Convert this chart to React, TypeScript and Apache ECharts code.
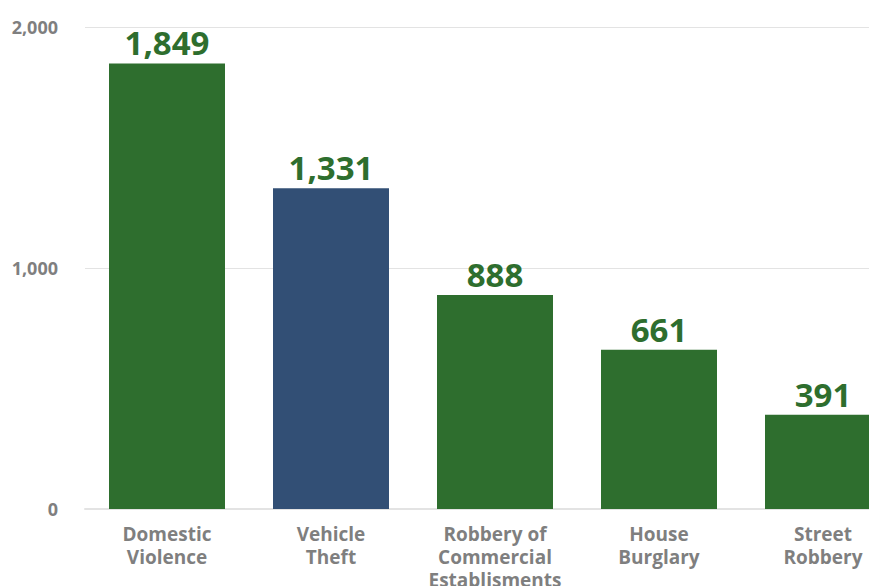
import React, { useEffect, useRef } from "react";
import * as echarts from "echarts";

const categories = [
  "Domestic\nViolence",
  "Vehicle\nTheft",
  "Robbery of\nCommercial\nEstablisments",
  "House\nBurglary",
  "Street\nRobbery",
];
const values = [1849, 1331, 888, 661, 391];
const barColors = ["#2e6e2e", "#324f75", "#2e6e2e", "#2e6e2e", "#2e6e2e"];
const yTicks = [0, 1000, 2000];

export default function App() {
  const ref = useRef<HTMLDivElement>(null);
  useEffect(() => {
    const chart = echarts.init(ref.current!, null, { renderer: "svg" });
    const font = "'Open Sans', 'DejaVu Sans', sans-serif";
    chart.setOption({
      animation: false,
      grid: {
        left: 85,
        width: 820,
        top: 27,
        bottom: 77,
        containLabel: false,
        outerBoundsMode: "none",
      },
      xAxis: {
        type: "category",
        data: categories,
        axisLine: { show: true, lineStyle: { color: "#e3e3e3", width: 2 } },
        axisTick: { show: false },
        axisLabel: {
          color: "#7f7f7f",
          fontFamily: font,
          fontWeight: "bold",
          fontSize: 19,
          lineHeight: 23,
          margin: 13,
          interval: 0,
        },
      },
      yAxis: {
        type: "value",
        min: 0,
        max: yTicks[yTicks.length - 1],
        interval: 1000,
        axisLine: { show: false },
        axisTick: { show: false },
        splitLine: { lineStyle: { color: "#e3e3e3", width: 1 } },
        axisLabel: {
          color: "#7f7f7f",
          fontFamily: font,
          fontWeight: "bold",
          fontSize: 18,
          margin: 27,
          formatter: (v: number) => v.toLocaleString("en-US"),
        },
      },
      series: [
        {
          type: "bar",
          barWidth: 116,
          data: values.map((v, i) => ({ value: v, itemStyle: { color: barColors[i] } })),
          label: {
            show: true,
            position: "top",
            distance: 4,
            fontFamily: font,
            fontWeight: "bold",
            fontSize: 33,
            color: "#2e6e2e",
            formatter: (p: any) => Number(p.value).toLocaleString("en-US"),
          },
        },
      ],
    });
    return () => chart.dispose();
  }, []);
  return (
    <div
      ref={ref}
      style={{ position: "fixed", left: 0, top: 0, width: 869, height: 586, background: "#fff" }}
    />
  );
}
